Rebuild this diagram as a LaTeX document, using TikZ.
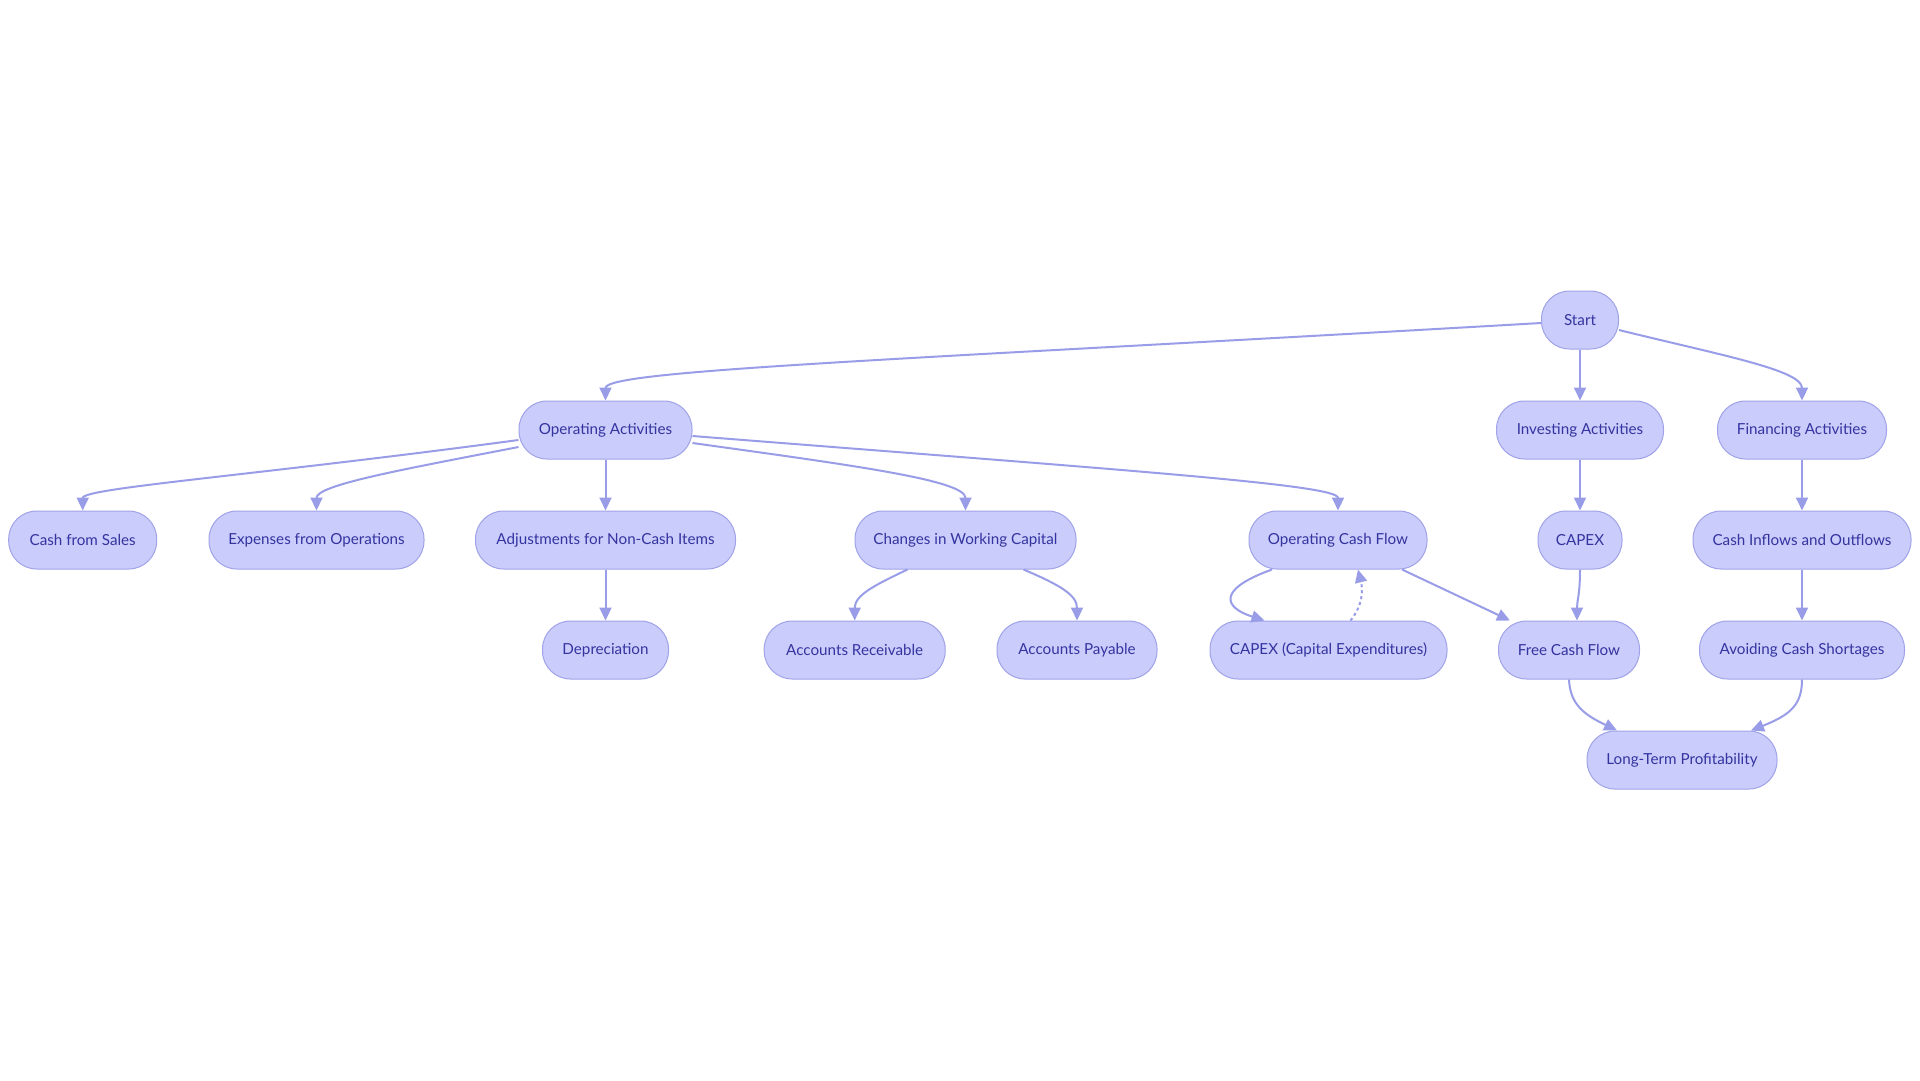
\documentclass[tikz,border=0pt]{standalone}
\usepackage{fontspec}
\setmainfont{Lato}
\usetikzlibrary{arrows.meta}
\definecolor{nodefill}{RGB}{202,204,251}
\definecolor{nodeline}{RGB}{160,163,232}
\definecolor{edgecol}{RGB}{153,157,232}
\definecolor{txtcol}{RGB}{52,52,160}
\begin{document}
\begin{tikzpicture}[x=1pt,y=-1pt,
  box/.style={draw=nodeline, line width=1pt, fill=nodefill, rounded corners=28pt,
    minimum height=58pt, inner sep=0pt, text=txtcol,
    font=\fontsize{15.2}{18}\selectfont},
  edge/.style={draw=edgecol, line width=2pt, -{Triangle[length=13pt,width=12pt]}},
  dotedge/.style={draw=edgecol, line width=2pt, dash pattern=on 3pt off 3pt, -{Triangle[length=13pt,width=12pt]}}
]
\useasboundingbox (0,0) rectangle (1920,1080);
\fill[white] (0,0) rectangle (1920,1080);

% row 0
\node[box, minimum width=77pt] (start) at (1580,320) {Start};
% row 1
\node[box, minimum width=173pt] (opa) at (605.5,430) {Operating Activities};
\node[box, minimum width=167pt] (inv) at (1580,430) {Investing Activities};
\node[box, minimum width=169pt] (fin) at (1802,430) {Financing Activities};
% row 2
\node[box, minimum width=148pt] (cfs) at (82.7,540) {Cash from Sales};
\node[box, minimum width=215pt] (exp) at (316.5,540) {Expenses from Operations};
\node[box, minimum width=260pt] (adj) at (605.5,540) {Adjustments for Non-Cash Items};
\node[box, minimum width=221pt] (cwc) at (965.5,540) {Changes in Working Capital};
\node[box, minimum width=178pt] (ocf) at (1338,540) {Operating Cash Flow};
\node[box, minimum width=84pt] (capex) at (1580,540) {CAPEX};
\node[box, minimum width=218pt] (cio) at (1802,540) {Cash Inflows and Outflows};
% row 3
\node[box, minimum width=126pt] (dep) at (605.5,650) {Depreciation};
\node[box, minimum width=181pt] (ar) at (854.7,650) {Accounts Receivable};
\node[box, minimum width=160pt] (ap) at (1077,650) {Accounts Payable};
\node[box, minimum width=237pt] (capexf) at (1328.5,650) {CAPEX (Capital Expenditures)};
\node[box, minimum width=141pt] (fcf) at (1569,650) {Free Cash Flow};
\node[box, minimum width=205pt] (avd) at (1802,650) {Avoiding Cash Shortages};
% row 4
\node[box, minimum width=190pt] (ltp) at (1682,760) {Long-Term Profitability};

% edges
\draw[edge] ([yshift=-3pt]start.west) .. controls (900,360) and (605.5,370) .. (opa.north);
\draw[edge] (start.south) -- (inv.north);
\draw[edge] ([yshift=-10pt]start.east) .. controls (1720,355) and (1802,370) .. (fin.north);

\draw[edge] ([yshift=-10pt]opa.west) .. controls (250,476) and (82.7,488) .. (cfs.north);
\draw[edge] ([yshift=-17pt]opa.west) .. controls (400,470) and (316.5,485) .. (exp.north);
\draw[edge] (opa.south) -- (adj.north);
\draw[edge] ([yshift=-13pt]opa.east) .. controls (850,465) and (965.5,480) .. (cwc.north);
\draw[edge] ([yshift=-6pt]opa.east) .. controls (1150,472) and (1338,485) .. (ocf.north);
\draw[edge] (inv.south) -- (capex.north);

\draw[edge] (adj.south) -- (dep.north);
\draw[edge] ([xshift=-58pt]cwc.south) .. controls (875,585) and (854.7,595) .. (ar.north);
\draw[edge] ([xshift=58pt]cwc.south) .. controls (1060,585) and (1077,595) .. (ap.north);

\draw[edge] ([xshift=-66pt]ocf.south) .. controls (1215,590) and (1225,608) .. ([xshift=-64pt]capexf.north);
\draw[dotedge] ([xshift=22pt]capexf.north) .. controls (1363,605) and (1363,590) .. ([xshift=20pt]ocf.south);
\draw[edge] ([xshift=64pt]ocf.south) -- ([xshift=-59pt]fcf.north);
\draw[edge] (capex.south) .. controls (1580,595) and (1577,600) .. ([xshift=8pt]fcf.north);

\draw[edge] (fin.south) -- (cio.north);
\draw[edge] (cio.south) -- (avd.north);

\draw[edge] (fcf.south) .. controls (1570,705) and (1585,715) .. ([xshift=-65pt]ltp.north);
\draw[edge] (avd.south) .. controls (1802,705) and (1790,715) .. ([xshift=69pt]ltp.north);
\end{tikzpicture}
\end{document}
